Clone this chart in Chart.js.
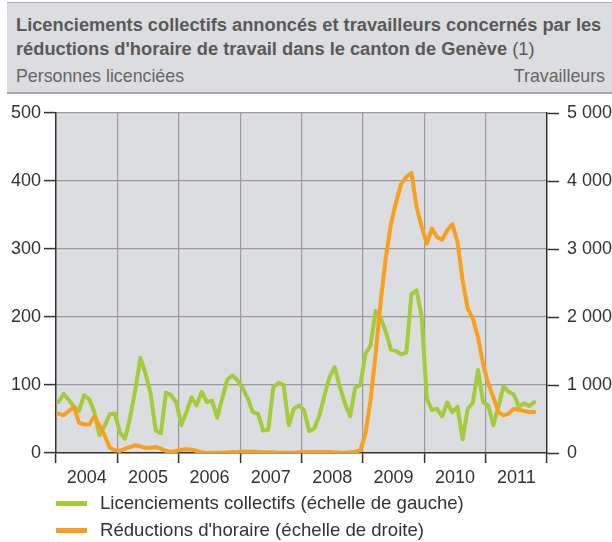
<!DOCTYPE html>
<html>
<head>
<meta charset="utf-8">
<script src="https://cdn.jsdelivr.net/npm/chart.js@4"></script>
<style>
  html, body { margin: 0; padding: 0; background: #fff; }
  body { width: 612px; height: 542px; position: relative; overflow: hidden;
         font-family: 'Liberation Sans', Arial, sans-serif; }
  #c { position: absolute; left: 0; top: 0; }
  #hdr { position: absolute; left: 7px; top: 2px; width: 605px; height: 89px;
         background: #dcdde0; border-top: 1px solid #b4b4b4; border-bottom: 2px solid #a9a9a9; }
  .ln { position: absolute; white-space: nowrap; line-height: 24px; }
  .b { font-weight: bold; font-size: 18.25px; color: #595959; }
  .r { font-size: 17.8px; color: #666; }
  .lg { position: absolute; white-space: nowrap; line-height: 24px; font-size: 18.6px; color: #333; }
  .sw { position: absolute; width: 31px; height: 5px; }
</style>
</head>
<body>
<canvas id="c" width="612" height="542"></canvas>
<div id="hdr">
  <div class="ln b" style="left:9px; top:10px;">Licenciements collectifs annoncés et travailleurs concernés par les</div>
  <div class="ln b" style="left:9px; top:34px;">réductions d'horaire de travail dans le canton de Genève <span style="font-weight:normal">(1)</span></div>
  <div class="ln r" style="left:9px; top:61px;">Personnes licenciées</div>
  <div class="ln r" style="right:7px; top:61px;">Travailleurs</div>
</div>
<div class="sw" id="sw1" style="left:56px; top:501px;"></div>
<div class="lg" id="lg1" style="left:100px; top:491px;"></div>
<div class="sw" id="sw2" style="left:56px; top:528px;"></div>
<div class="lg" id="lg2" style="left:100px; top:518px;"></div>
<script>
// ---- data (monthly, Jan 2004 - Oct 2011) ----
const years = ['2004', '2005', '2006', '2007', '2008', '2009', '2010', '2011'];
const seriesNames = ['Licenciements collectifs (échelle de gauche)', "Réductions d'horaire (échelle de droite)"];
const colors = ['#a4cc3a', '#f8a01e'];
// Licenciements collectifs (personnes licenciées, left axis)
const licenciements = [
  75, 87, 78, 68, 62, 85, 79, 60, 26, 40, 57, 58,
  30, 21, 53, 92, 140, 117, 87, 33, 29, 89, 85, 75,
  41, 60, 82, 70, 90, 75, 77, 52, 80, 108, 114, 107,
  95, 80, 60, 58, 33, 34, 97, 103, 100, 41, 65, 70,
  63, 32, 36, 55, 85, 112, 126, 97, 73, 54, 96, 100,
  146, 158, 209, 198, 178, 152, 150, 145, 148, 234, 239, 200,
  80, 63, 65, 54, 74, 60, 68, 20, 65, 74, 122, 75,
  70, 41, 68, 98, 90, 86, 68, 73, 69, 75
];
// Réductions d'horaire (travailleurs, right axis)
const reductions = [
  578, 554, 618, 680, 441, 422, 420, 540, 400, 260, 80, 39,
  29, 64, 88, 113, 98, 78, 78, 88, 64, 29, 15, 29,
  49, 54, 49, 29, 10, 0, 5, 5, 5, 10, 15, 15,
  20, 20, 20, 15, 10, 10, 10, 5, 5, 5, 5, 10,
  15, 15, 15, 15, 15, 15, 10, 5, 5, 10, 20, 39,
  284, 775, 1461, 2245, 2882, 3373, 3691, 3961, 4059, 4118, 3618, 3324,
  3078, 3299, 3176, 3137, 3275, 3363, 3103, 2539, 2123, 1975, 1706, 1314,
  1020, 824, 603, 554, 578, 652, 637, 618, 603, 603
];
const leftTicks = [0, 100, 200, 300, 400, 500];
const rightTicks = [0, 1000, 2000, 3000, 4000, 5000];

// legend (HTML)
document.getElementById('lg1').textContent = seriesNames[0];
document.getElementById('lg2').textContent = seriesNames[1];
document.getElementById('sw1').style.background = colors[0];
document.getElementById('sw2').style.background = colors[1];

const toPts = arr => arr.map((v, i) => ({ x: i + 0.5, y: v }));
const nMonths = years.length * 12;

const bgPlugin = {
  id: 'plotBg',
  beforeDraw(chart) {
    const a = chart.chartArea, ctx = chart.ctx;
    ctx.save();
    ctx.fillStyle = '#dcdde0';
    ctx.fillRect(a.left, a.top, a.right - a.left, a.bottom - a.top);
    ctx.restore();
  }
};

Chart.defaults.font.family = "'Liberation Sans', Arial, sans-serif";
Chart.defaults.font.size = 18;
Chart.defaults.color = '#333';

new Chart(document.getElementById('c'), {
  type: 'line',
  data: {
    datasets: [
      { label: seriesNames[0], data: toPts(licenciements), yAxisID: 'y', borderColor: colors[0],
        borderWidth: 4, pointRadius: 0, tension: 0, borderJoinStyle: 'round', borderCapStyle: 'round', order: 2 },
      { label: seriesNames[1], data: toPts(reductions), yAxisID: 'y2', borderColor: colors[1],
        borderWidth: 4, pointRadius: 0, tension: 0, borderJoinStyle: 'round', borderCapStyle: 'round', order: 1 }
    ]
  },
  options: {
    responsive: false,
    animation: false,
    events: [],
    layout: { padding: { top: 113, left: 0, right: 0, bottom: 59 } },
    plugins: { legend: { display: false }, tooltip: { enabled: false } },
    scales: {
      x: {
        type: 'linear', min: 0, max: nMonths,
        afterBuildTicks(scale) {
          const t = [];
          for (let v = 0; v <= nMonths; v += 6) t.push({ value: v });
          scale.ticks = t;
        },
        afterFit(scale) { scale.height = 30; },
        ticks: {
          autoSkip: false, maxRotation: 0, padding: 4, color: '#333', font: { size: 18 },
          callback: v => (v % 12 === 6 ? years[(v - 6) / 12] : '')
        },
        grid: {
          color: c => (c.tick && c.tick.value % 12 === 0 && c.tick.value > 0 && c.tick.value < nMonths ? '#9a9a9a' : 'rgba(0,0,0,0)'),
          tickColor: c => (c.tick && c.tick.value % 12 === 0 ? '#333' : 'rgba(0,0,0,0)'),
          lineWidth: 1.2, tickLength: 10, tickWidth: 1.5
        },
        border: { display: true, color: '#333', width: 1.5 }
      },
      y: {
        position: 'left', min: 0, max: 500,
        afterBuildTicks(scale) { scale.ticks = leftTicks.map(v => ({ value: v })); },
        afterFit(scale) { scale.width = 56; },
        ticks: { padding: 3, color: '#333', font: { size: 18 } },
        grid: {
          color: c => (c.tick && c.tick.value === 0 ? 'rgba(0,0,0,0)' : '#9a9a9a'),
          tickColor: '#333', lineWidth: 1.2, tickLength: 12, tickWidth: 1.5
        },
        border: { display: true, color: '#333', width: 1.5 }
      },
      y2: {
        position: 'right', min: 0, max: 5000,
        afterBuildTicks(scale) { scale.ticks = rightTicks.map(v => ({ value: v })); },
        afterFit(scale) { scale.width = 65; },
        ticks: {
          padding: 8, color: '#333', font: { size: 18 },
          callback: v => (v === 0 ? '0' : (v / 1000) + ' 000')
        },
        grid: { drawOnChartArea: false, tickColor: '#333', tickLength: 12, tickWidth: 1.5 },
        border: { display: true, color: '#333', width: 1.5 }
      }
    }
  },
  plugins: [bgPlugin]
});
</script>
</body>
</html>
